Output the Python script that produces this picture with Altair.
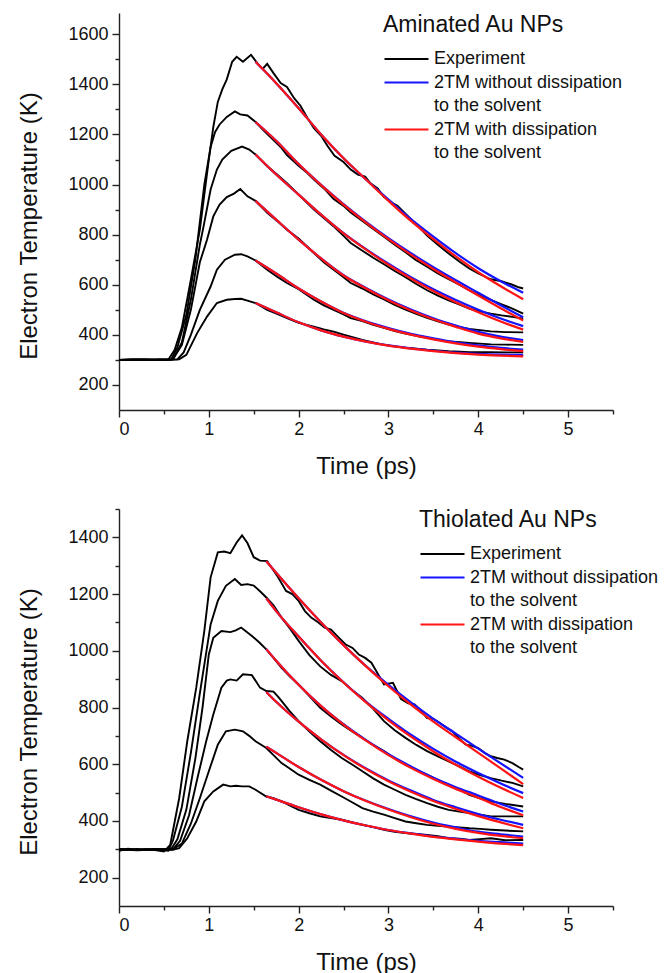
import altair as alt
import pandas as pd

FONT = "Liberation Sans"

# Legend rows (two text rows per model entry) and their colours
SERIES = ["Experiment", "2TM without dissipation", "to the solvent ",
          "2TM with dissipation", "to the solvent"]
COLORS = ["#000000", "#1414ff", "transparent", "#ff1414", "transparent"]

X_MAJOR = [0, 1, 2, 3, 4, 5]
X_MINOR = [0.5, 1.5, 2.5, 3.5, 4.5, 5.5]

# ---------------- Aminated Au NPs (top) ----------------
AMIN_TITLE = "Aminated Au NPs"
AMIN_YDOM = [100, 1685]
AMIN_YMAJOR = [200, 400, 600, 800, 1000, 1200, 1400, 1600]
AMIN_YMINOR = [300, 500, 700, 900, 1100, 1300, 1500]

amin_e1_t = [0, 0.15, 0.3, 0.45, 0.55, 0.62, 0.7, 0.8, 0.9, 1.0, 1.05, 1.1, 1.15, 1.2, 1.26, 1.31, 1.38, 1.47, 1.55, 1.6,
             1.65, 1.72, 1.8, 1.87, 1.95, 2.02, 2.1, 2.17, 2.25, 2.32, 2.4, 2.5, 2.58, 2.66, 2.74, 2.8, 2.88, 2.95, 3.05, 3.1,
             3.2, 3.3, 3.43, 3.55, 3.67, 3.8, 3.9, 4.0, 4.14, 4.25, 4.38, 4.45, 4.5]
amin_e1_T = [300, 302, 299, 303, 302, 340, 430, 620, 820, 1100, 1230, 1330, 1380, 1420, 1490, 1510, 1490, 1518, 1480, 1462,
             1482, 1445, 1405, 1390, 1345, 1315, 1265, 1225, 1195, 1155, 1115, 1090, 1060, 1040, 1032, 1005, 985, 950, 925, 915,
             880, 845, 796, 760, 725, 690, 665, 645, 622, 615, 600, 590, 585]
amin_e2_t = [0, 0.2, 0.4, 0.58, 0.65, 0.75, 0.85, 0.95, 1.02, 1.07, 1.12, 1.2, 1.29, 1.35, 1.43, 1.52, 1.6, 1.7, 1.8, 1.87,
             2.0, 2.1, 2.17, 2.3, 2.39, 2.5, 2.58, 2.71, 2.85, 2.95, 3.07, 3.19, 3.3, 3.43, 3.55, 3.67, 3.8, 3.9, 4.02, 4.14,
             4.26, 4.38, 4.5]
amin_e2_T = [300, 301, 300, 302, 350, 480, 700, 1000, 1150, 1210, 1240, 1270, 1292, 1280, 1276, 1250, 1220, 1185, 1150, 1118,
             1075, 1045, 1020, 978, 942, 915, 888, 855, 818, 792, 760, 730, 700, 672, 645, 622, 598, 578, 558, 540,
             522, 505, 485]
amin_e3_t = [0, 0.25, 0.45, 0.6, 0.7, 0.8, 0.9, 0.94, 1.02, 1.09, 1.15, 1.25, 1.37, 1.45, 1.52, 1.65, 1.76, 1.87, 2.0, 2.17,
             2.3, 2.39, 2.5, 2.58, 2.71, 2.83, 2.95, 3.07, 3.19, 3.31, 3.43, 3.55, 3.67, 3.8, 3.9, 4.02, 4.14, 4.26, 4.38, 4.5]
amin_e3_T = [300, 302, 300, 302, 370, 540, 760, 830, 980, 1060, 1100, 1135, 1152, 1140, 1120, 1073, 1040, 1005, 960, 900,
             860, 833, 795, 767, 736, 708, 682, 655, 630, 603, 578, 557, 538, 520, 505, 494, 485, 478, 472, 465]
amin_e4_t = [0, 0.3, 0.5, 0.6, 0.7, 0.8, 0.9, 0.98, 1.05, 1.12, 1.2, 1.28, 1.35, 1.43, 1.52, 1.65, 1.76, 1.87, 2.0, 2.17,
             2.28, 2.39, 2.5, 2.58, 2.71, 2.83, 2.95, 3.07, 3.19, 3.31, 3.43, 3.55, 3.67, 3.8, 3.9, 4.02, 4.14, 4.3, 4.5]
amin_e4_T = [300, 301, 300, 302, 360, 500, 690, 780, 873, 920, 950, 964, 982, 953, 935, 887, 855, 820, 785, 727,
             690, 660, 630, 607, 585, 562, 542, 520, 501, 484, 468, 454, 441, 431, 424, 419, 414, 411, 410]
amin_e5_t = [0, 0.3, 0.5, 0.65, 0.72, 0.8, 0.9, 1.02, 1.09, 1.18, 1.29, 1.36, 1.43, 1.52, 1.65, 1.76, 1.87, 2.0, 2.17, 2.28,
             2.39, 2.5, 2.58, 2.71, 2.83, 2.95, 3.07, 3.19, 3.31, 3.43, 3.55, 3.67, 3.8, 3.9, 4.02, 4.14, 4.3, 4.5]
amin_e5_T = [300, 302, 300, 302, 330, 400, 500, 593, 660, 700, 720, 722, 713, 697, 660, 632, 607, 582, 540, 518,
             500, 482, 467, 455, 440, 428, 415, 405, 396, 388, 380, 374, 371, 368, 365, 362, 361, 360]
amin_e6_t = [0, 0.3, 0.5, 0.67, 0.75, 0.87, 0.98, 1.09, 1.2, 1.29, 1.36, 1.43, 1.52, 1.65, 1.76, 1.87, 2.0, 2.17, 2.28, 2.39,
             2.5, 2.58, 2.71, 2.83, 2.95, 3.07, 3.19, 3.31, 3.43, 3.55, 3.67, 3.8, 3.9, 4.02, 4.14, 4.3, 4.5]
amin_e6_T = [300, 301, 300, 302, 320, 407, 473, 527, 540, 543, 544, 537, 527, 500, 484, 467, 448, 433, 422, 413,
             401, 393, 380, 370, 360, 354, 349, 345, 341, 338, 335, 333, 331, 331, 331, 330, 330]

AMIN_MODEL_T = [1.52, 1.75, 2.0, 2.25, 2.5, 2.75, 3.0, 3.25, 3.5, 3.75, 4.0, 4.25, 4.5]
amin_red = [
    [1490, 1405, 1305, 1200, 1105, 1020, 935, 855, 782, 713, 650, 594, 542],
    [1250, 1175, 1082, 998, 920, 848, 782, 720, 663, 609, 557, 506, 457],
    [1120, 1040, 960, 880, 805, 740, 680, 625, 575, 530, 490, 453, 421],
    [935, 860, 780, 705, 637, 585, 538, 497, 462, 432, 405, 386, 372],
    [697, 645, 585, 533, 487, 452, 424, 401, 382, 366, 353, 343, 335],
    [527, 490, 450, 418, 393, 373, 357, 345, 335, 327, 321, 317, 314],
]
amin_blue = [
    [1490, 1405, 1305, 1200, 1105, 1020, 940, 862, 792, 726, 666, 614, 568],
    [1250, 1175, 1082, 999, 922, 851, 786, 726, 670, 618, 568, 518, 470],
    [1120, 1040, 960, 880, 806, 742, 684, 630, 582, 539, 500, 465, 435],
    [935, 860, 780, 705, 638, 587, 541, 501, 466, 437, 412, 393, 379],
    [697, 645, 585, 533, 488, 454, 427, 404, 386, 370, 358, 348, 341],
    [527, 490, 450, 418, 393, 373, 358, 346, 337, 329, 324, 321, 320],
]

# ---------------- Thiolated Au NPs (bottom) ----------------
THIO_TITLE = "Thiolated Au NPs"
THIO_YDOM = [100, 1500]
THIO_YMAJOR = [200, 400, 600, 800, 1000, 1200, 1400]
THIO_YMINOR = [300, 500, 700, 900, 1100, 1300, 1500]

thio_e1_t = [0, 0.1, 0.2, 0.3, 0.4, 0.5, 0.57, 0.67, 0.76, 0.86, 0.95, 1.02, 1.1, 1.17, 1.24, 1.31, 1.37, 1.43, 1.5, 1.57,
             1.65, 1.76, 1.86, 1.93, 2.0, 2.07, 2.14, 2.22, 2.29, 2.36, 2.43, 2.52, 2.6, 2.67, 2.74, 2.81, 2.88, 2.95, 3.05, 3.14,
             3.22, 3.29, 3.36, 3.43, 3.5, 3.57, 3.64, 3.71, 3.79, 3.86, 3.93, 4.0, 4.07, 4.14, 4.21, 4.29, 4.38, 4.45, 4.5]
thio_e1_T = [295, 302, 298, 300, 297, 292, 315, 480, 681, 870, 1070, 1259, 1347, 1350, 1344, 1382, 1407, 1380, 1330, 1318,
             1316, 1265, 1211, 1200, 1176, 1140, 1117, 1100, 1082, 1075, 1052, 1023, 1010, 987, 975, 958, 920, 881, 887, 830,
             815, 811, 790, 763, 760, 746, 730, 716, 690, 669, 665, 657, 640, 628, 622, 616, 604, 590, 581]
thio_e2_t = [0, 0.2, 0.4, 0.55, 0.6, 0.7, 0.8, 0.9, 1.02, 1.1, 1.19, 1.29, 1.36, 1.43, 1.5, 1.57, 1.64, 1.72, 1.81, 1.9,
             2.0, 2.12, 2.24, 2.36, 2.48, 2.6, 2.71, 2.83, 2.95, 3.07, 3.19, 3.31, 3.43, 3.55, 3.67, 3.79, 3.9, 4.02, 4.14, 4.26,
             4.38, 4.5]
thio_e2_T = [300, 296, 299, 295, 330, 450, 640, 850, 1093, 1176, 1229, 1253, 1232, 1235, 1230, 1210, 1188, 1160, 1117, 1080,
             1035, 985, 945, 915, 893, 860, 834, 795, 752, 720, 693, 668, 646, 628, 610, 592, 575, 562, 551, 542,
             534, 522]
thio_e3_t = [0, 0.2, 0.4, 0.58, 0.65, 0.75, 0.85, 0.93, 1.0, 1.05, 1.14, 1.24, 1.3, 1.36, 1.48, 1.56, 1.64, 1.72, 1.81, 1.9,
             2.0, 2.12, 2.24, 2.36, 2.48, 2.6, 2.71, 2.83, 2.95, 3.07, 3.19, 3.31, 3.43, 3.55, 3.67, 3.79, 3.9, 4.02, 4.14, 4.3,
             4.5]
thio_e3_T = [298, 301, 297, 300, 335, 440, 620, 800, 987, 1046, 1070, 1066, 1072, 1082, 1052, 1030, 1005, 975, 940, 910,
             881, 840, 799, 768, 740, 715, 693, 668, 646, 620, 598, 580, 563, 545, 528, 510, 492, 480, 469, 460,
             451]
thio_e4_t = [0, 0.2, 0.4, 0.6, 0.68, 0.78, 0.88, 0.97, 1.05, 1.14, 1.2, 1.24, 1.31, 1.38, 1.48, 1.57, 1.64, 1.72, 1.78, 1.9,
             2.0, 2.12, 2.24, 2.36, 2.48, 2.6, 2.71, 2.83, 2.95, 3.07, 3.19, 3.31, 3.43, 3.55, 3.67, 3.79, 3.9, 4.02, 4.14, 4.3,
             4.5]
thio_e4_T = [300, 298, 300, 300, 330, 420, 560, 680, 775, 870, 895, 899, 895, 917, 914, 870, 858, 856, 835, 787,
             752, 715, 681, 650, 622, 598, 575, 550, 528, 510, 492, 477, 463, 450, 439, 433, 428, 422, 416, 416,
             416]
thio_e5_t = [0, 0.2, 0.4, 0.6, 0.7, 0.8, 0.9, 1.0, 1.1, 1.19, 1.29, 1.38, 1.45, 1.52, 1.64, 1.72, 1.81, 1.9, 2.0, 2.12,
             2.24, 2.36, 2.48, 2.6, 2.71, 2.83, 2.95, 3.07, 3.19, 3.31, 3.43, 3.55, 3.67, 3.79, 3.9, 4.02, 4.14, 4.3, 4.5]
thio_e5_T = [300, 298, 300, 300, 320, 390, 480, 575, 669, 716, 722, 716, 700, 681, 657, 632, 604, 585, 563, 545,
             528, 507, 486, 465, 445, 433, 422, 410, 398, 392, 386, 383, 380, 377, 374, 372, 369, 366, 363]
thio_e6_t = [0, 0.2, 0.4, 0.6, 0.67, 0.76, 0.86, 0.95, 1.05, 1.16, 1.24, 1.3, 1.37, 1.45, 1.52, 1.64, 1.72, 1.81, 1.9, 2.0,
             2.12, 2.24, 2.36, 2.48, 2.6, 2.71, 2.83, 2.95, 3.07, 3.19, 3.31, 3.43, 3.55, 3.67, 3.79, 3.9, 4.02, 4.14, 4.3, 4.5]
thio_e6_T = [300, 298, 300, 298, 304, 339, 398, 469, 504, 528, 522, 524, 522, 522, 510, 486, 480, 469, 455, 439,
             427, 416, 410, 404, 395, 386, 378, 369, 362, 357, 354, 351, 346, 339, 337, 333, 336, 339, 332, 333]

THIO_MODEL_T = [1.64, 1.75, 2.0, 2.25, 2.5, 2.75, 3.0, 3.25, 3.5, 3.75, 4.0, 4.25, 4.5]
thio_red = [
    [1316, 1275, 1185, 1100, 1020, 945, 875, 810, 750, 695, 640, 585, 530],
    [1185, 1140, 1050, 965, 888, 818, 755, 697, 645, 598, 556, 517, 481],
    [1006, 965, 880, 805, 740, 683, 632, 587, 548, 513, 482, 449, 420],
    [855, 820, 750, 688, 632, 583, 540, 503, 470, 442, 417, 395, 374],
    [662, 640, 590, 545, 505, 470, 440, 413, 390, 372, 358, 347, 339],
    [487, 475, 448, 423, 402, 384, 368, 355, 344, 335, 327, 320, 315],
]
thio_blue = [
    [1316, 1275, 1185, 1100, 1020, 946, 880, 818, 760, 708, 655, 603, 552],
    [1185, 1140, 1050, 965, 889, 820, 760, 704, 654, 609, 569, 532, 498],
    [1006, 965, 880, 805, 741, 685, 635, 592, 552, 519, 490, 460, 433],
    [855, 820, 750, 688, 633, 585, 543, 507, 474, 448, 424, 404, 386],
    [662, 640, 590, 545, 505, 471, 442, 416, 394, 377, 362, 353, 345],
    [487, 475, 448, 423, 402, 384, 368, 356, 345, 337, 330, 325, 320],
]


def exp_frame(curves):
    rows = []
    for i, (ts, Ts) in enumerate(curves):
        assert len(ts) == len(Ts), (i, len(ts), len(Ts))
        for t, T in zip(ts, Ts):
            rows.append({"curve": f"e{i}", "series": "Experiment", "t": t, "T": T})
    return pd.DataFrame(rows)


def model_frame(times, curves, name):
    rows = []
    for i, Ts in enumerate(curves):
        assert len(Ts) == len(times)
        for t, T in zip(times, Ts):
            rows.append({"curve": f"m{i}", "series": name, "t": t, "T": T})
    return pd.DataFrame(rows)


W, H = 494, 397


def panel(exp_df, blue_df, red_df, ydom, ymajor, yminor, title, lx, ly):
    xs = alt.Scale(domain=[0, 5.5], nice=False, zero=False)
    ys = alt.Scale(domain=ydom, nice=False, zero=False)
    common_axis = dict(grid=False, domainColor="#222222", tickColor="#222222",
                       domainWidth=1.4, tickWidth=1.4, labelFont=FONT, titleFont=FONT,
                       labelColor="#111111", titleColor="#111111", labelFontSize=18,
                       titleFontSize=24, titleFontWeight="normal")
    x_major = alt.X("t:Q", scale=xs, axis=alt.Axis(
        orient="bottom", values=X_MAJOR, format="d", tickSize=7, labelPadding=3,
        title="Time (ps)", titlePadding=16, **common_axis))
    y_major = alt.Y("T:Q", scale=ys, axis=alt.Axis(
        orient="left", values=ymajor, format="d", tickSize=7, labelPadding=4,
        title="Electron Temperature (K)", titlePadding=26, titleY=H / 2 + 14,
        **common_axis))
    x_minor = alt.X("t:Q", scale=xs, axis=alt.Axis(
        orient="bottom", values=X_MINOR, tickSize=4, labels=False, domain=False,
        grid=False, title=None, tickColor="#222222", tickWidth=1.4))
    y_minor = alt.Y("T:Q", scale=ys, axis=alt.Axis(
        orient="left", values=yminor, tickSize=4, labels=False, domain=False,
        grid=False, title=None, tickColor="#222222", tickWidth=1.4))
    x_none = alt.X("t:Q", scale=xs, axis=None)
    y_none = alt.Y("T:Q", scale=ys, axis=None)

    color = alt.Color("series:N", scale=alt.Scale(domain=SERIES, range=COLORS),
                      title=title,
                      legend=alt.Legend(orient="none", legendX=lx, legendY=ly,
                                        symbolType="stroke", symbolSize=1936,
                                        symbolStrokeWidth=2.2, clipHeight=20,
                                        labelFont=FONT, labelFontSize=18,
                                        labelColor="#111111", labelOffset=4,
                                        labelLimit=400, titleLimit=400,
                                        titleFont=FONT, titleFontSize=23,
                                        titleFontWeight="normal", titleColor="#111111",
                                        titlePadding=12, rowPadding=3.5))

    black = alt.Chart(exp_df).mark_line(strokeWidth=1.9).encode(
        x=x_major, y=y_major, color=color, detail="curve:N", order="t:Q")
    blue = alt.Chart(blue_df).mark_line(strokeWidth=2.2, interpolate="monotone").encode(
        x=x_minor, y=y_minor, color=color, detail="curve:N", order="t:Q")
    red = alt.Chart(red_df).mark_line(strokeWidth=2.2, interpolate="monotone").encode(
        x=x_none, y=y_none, color=color, detail="curve:N", order="t:Q")
    return alt.layer(black, blue, red).resolve_axis(
        x="independent", y="independent").properties(width=W, height=H)


amin_exp = exp_frame([(amin_e1_t, amin_e1_T), (amin_e2_t, amin_e2_T), (amin_e3_t, amin_e3_T),
                      (amin_e4_t, amin_e4_T), (amin_e5_t, amin_e5_T), (amin_e6_t, amin_e6_T)])
thio_exp = exp_frame([(thio_e1_t, thio_e1_T), (thio_e2_t, thio_e2_T), (thio_e3_t, thio_e3_T),
                      (thio_e4_t, thio_e4_T), (thio_e5_t, thio_e5_T), (thio_e6_t, thio_e6_T)])

top = panel(amin_exp,
            model_frame(AMIN_MODEL_T, amin_blue, "2TM without dissipation"),
            model_frame(AMIN_MODEL_T, amin_red, "2TM with dissipation"),
            AMIN_YDOM, AMIN_YMAJOR, AMIN_YMINOR, AMIN_TITLE, 264, 1)
bottom = panel(thio_exp,
               model_frame(THIO_MODEL_T, thio_blue, "2TM without dissipation"),
               model_frame(THIO_MODEL_T, thio_red, "2TM with dissipation"),
               THIO_YDOM, THIO_YMAJOR, THIO_YMINOR, THIO_TITLE, 300, 0)

chart = alt.vconcat(top, bottom, spacing=30).resolve_scale(
    x="independent", y="independent", color="independent"
).resolve_legend(color="independent").configure_view(stroke=None).properties(
    background="white", padding={"left": 9, "top": 5, "right": 0, "bottom": 0})

chart.save("out.html", embed_options={"renderer": "svg", "actions": False})
